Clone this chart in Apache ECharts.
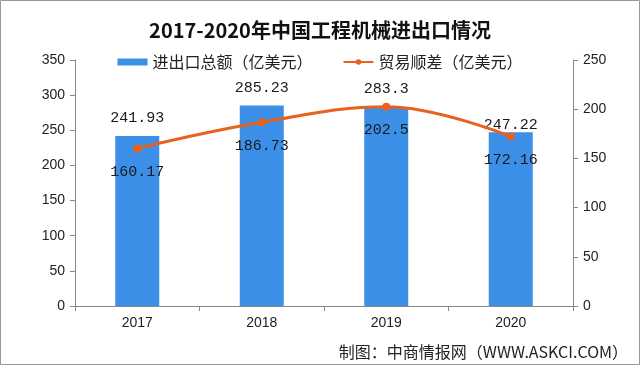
<!DOCTYPE html>
<html><head><meta charset="utf-8">
<script src="https://cdn.jsdelivr.net/npm/echarts@6/dist/echarts.min.js"></script>
<style>html,body{margin:0;padding:0;background:#fff}#c{width:640px;height:365px}</style>
</head><body><div id="c"></div>
<script>
const categories = ['2017', '2018', '2019', '2020'];
const totalTrade = [241.93, 285.23, 283.3, 247.22];
const tradeSurplus = [160.17, 186.73, 202.5, 172.16];
const leftTicks = [0, 50, 100, 150, 200, 250, 300, 350];
const rightTicks = [0, 50, 100, 150, 200, 250];
const seriesNames = ['进出口总额（亿美元）', '贸易顺差（亿美元）'];

const chart = echarts.init(document.getElementById('c'), null, {renderer: 'canvas'});
const labelFont = {fontFamily: 'Liberation Mono', fontSize: 15, color: '#1a1a1a'};
chart.setOption({
  animation: false,
  backgroundColor: '#fff',
  title: {
    text: '2017-2020年中国工程机械进出口情况',
    left: 'center', top: 15,
    textStyle: {fontFamily: 'Noto Sans CJK SC', fontSize: 20, fontWeight: 'bold', color: '#111'}
  },
  legend: {
    top: 49, left: 'center', itemGap: 30,
    itemWidth: 30, itemHeight: 7,
    textStyle: {fontFamily: 'Noto Sans CJK SC', fontSize: 16, color: '#222'},
    data: [{name: seriesNames[0], icon: 'rect'}, {name: seriesNames[1]}]
  },
  grid: {left: 75, right: 67, top: 60, bottom: 59},
  xAxis: {
    type: 'category', data: categories,
    axisLine: {lineStyle: {color: '#888'}},
    axisTick: {show: true, length: 5, lineStyle: {color: '#888'}},
    axisLabel: {fontFamily: 'Liberation Sans', fontSize: 14, color: '#222', margin: 10}
  },
  yAxis: [{
    type: 'value', min: 0, max: leftTicks[leftTicks.length - 1], interval: 50,
    axisLine: {show: true, lineStyle: {color: '#888'}},
    axisTick: {show: true, length: 5, lineStyle: {color: '#888'}},
    splitLine: {show: false},
    axisLabel: {fontFamily: 'Liberation Sans', fontSize: 14, color: '#222', margin: 10}
  }, {
    type: 'value', min: 0, max: rightTicks[rightTicks.length - 1], interval: 50,
    axisLine: {show: true, lineStyle: {color: '#888'}},
    axisTick: {show: true, length: 5, lineStyle: {color: '#888'}},
    splitLine: {show: false},
    axisLabel: {fontFamily: 'Liberation Sans', fontSize: 14, color: '#222', margin: 10}
  }],
  series: [{
    name: seriesNames[0], type: 'bar', yAxisIndex: 0, barWidth: 44,
    itemStyle: {color: '#3b8fe6'},
    label: {show: true, position: 'top', distance: 10, ...labelFont},
    data: totalTrade.map((v, i) => i === 3 ? {value: v, label: {distance: 0}} : v)
  }, {
    name: seriesNames[1], type: 'line', yAxisIndex: 1, smooth: 0.4,
    symbol: 'circle', symbolSize: 8,
    lineStyle: {color: '#e8611e', width: 3},
    itemStyle: {color: '#e8611e'},
    label: {show: true, position: 'bottom', distance: 12, ...labelFont},
    data: tradeSurplus
  }],
  graphic: [{
    type: 'text', right: 12, top: 344,
    style: {text: '制图：中商情报网（WWW.ASKCI.COM）', font: '16px "Noto Sans CJK SC"', fill: '#222'}
  }, {
    type: 'rect', shape: {x: 0.5, y: 0.5, width: 639, height: 364},
    style: {fill: 'none', stroke: '#999', lineWidth: 1}
  }]
});
</script></body></html>
